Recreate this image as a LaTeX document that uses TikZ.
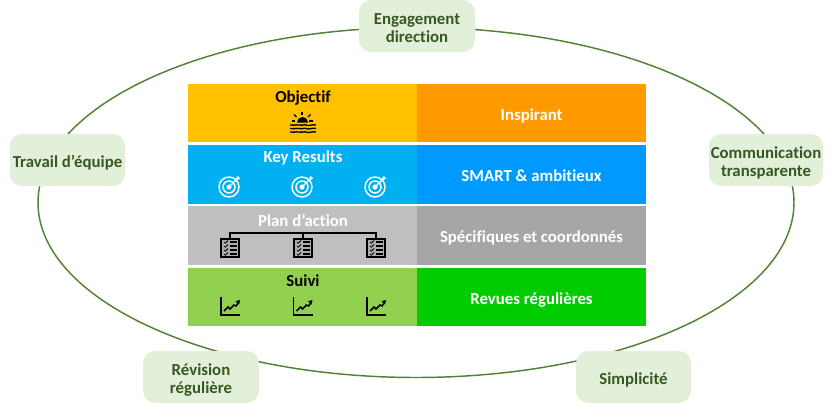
\documentclass[tikz,border=0pt]{standalone}
\usepackage{fontspec}
\usetikzlibrary{shapes.geometric}
\setmainfont[Ligatures=NoCommon]{Carlito}
\definecolor{ringg}{HTML}{548235}
\definecolor{pill}{HTML}{E2F0D9}
\definecolor{pilltext}{HTML}{385723}
\definecolor{c1l}{RGB}{255,192,0}
\definecolor{c1r}{RGB}{255,153,0}
\definecolor{c2l}{RGB}{0,176,240}
\definecolor{c2r}{RGB}{0,153,255}
\definecolor{c3l}{RGB}{191,191,191}
\definecolor{c3r}{RGB}{166,166,166}
\definecolor{c4l}{RGB}{146,208,80}
\definecolor{c4r}{RGB}{0,204,0}
\newcommand{\lowtxt}[1]{\raisebox{-5.6pt}[0pt][0pt]{\begin{tabular}{@{}c@{}}#1\end{tabular}}}
\tikzset{
 x=0.75pt,y=-0.75pt,
 pillbox/.style={draw=none,fill=pill,rounded corners=9pt,text=pilltext,font=\bfseries\fontsize{12.6}{13.5}\selectfont,inner sep=0pt,minimum height=39pt},
 band/.style={draw=none,inner sep=0pt,minimum width=171.75pt,font=\bfseries\fontsize{12.6}{13.5}\selectfont},
 lab/.style={inner sep=0pt,font=\bfseries\fontsize{12.6}{13.5}\selectfont},
 pics/target/.style={code={
  \draw[white,line width=1.1pt] (0,0) circle (10);
  \draw[white,line width=1.1pt] (0,0) circle (6);
  \fill[white] (0,0) circle (2.6);
  \draw[white,line width=0.9pt] (0,0) -- (9,-9);
  \fill[white] (6.5,-8) -- (9,-11.5) -- (9.7,-9.7) -- (11.5,-9) -- (8,-6.5) -- cycle;
 }},
 pics/chk/.style={code={
  \draw[black,line width=1.1pt,fill=black!10!c3l] (-9,-9) rectangle (9,9);
  \foreach \r in {-6,-2,2,6}{
   \draw[black,line width=0.6pt] (-6,\r) -- (-4.6,{\r+1.2}) -- (-2,{\r-1.5});
   \draw[black,line width=0.8pt] (0,\r) -- (6.5,\r);
  }
 }},
 pics/trend/.style={code={
  \draw[black,line width=0.9pt] (0,0) -- (0,18) -- (19,18);
  \draw[black,line width=1.1pt] (3,14) -- (7,10) -- (9,12) -- (13,8) -- (15,9) -- (18,5);
  \fill[black] (19,3) -- (14.5,4.2) -- (18,7.5) -- cycle;
 }},
}
\begin{document}
\begin{tikzpicture}
\useasboundingbox (0,0) rectangle (836,407);
\node[draw=ringg,line width=1.1pt,shape=ellipse,minimum width=567pt,minimum height=262.5pt,inner sep=0pt] (ring) at (416,202.5) {};
% bands
\node[band,fill=c1l,minimum height=43.5pt] (r1l) at (302.5,113) {};
\node[band,fill=c1r,text=white,minimum height=43.5pt] (r1r) at (531.5,113) {\lowtxt{Inspirant}};
\node[band,fill=c2l,minimum height=44.25pt] (r2l) at (302.5,174.5) {};
\node[band,fill=c2r,text=white,minimum height=44.25pt] (r2r) at (531.5,174.5) {\lowtxt{SMART \& ambitieux}};
\node[band,fill=c3l,minimum height=44.25pt] (r3l) at (302.5,235.5) {};
\node[band,fill=c3r,text=white,minimum height=44.25pt] (r3r) at (531.5,235.5) {\lowtxt{Spécifiques et coordonnés}};
\node[band,fill=c4l,minimum height=43.5pt] (r4l) at (302.5,297) {};
\node[band,fill=c4r,text=white,minimum height=43.5pt] (r4r) at (531.5,297) {\lowtxt{Revues régulières}};
% labels
\node[lab,text=black] (t1) at (303,98) {Objectif};
\node[lab,text=white] (t2) at (303,158) {Key Results};
\node[lab,text=white] (t3) at (303,220) {Plan d’action};
\node[lab,text=black] (t4) at (303,281) {Suivi};
% sun icon
\fill[black] (297,122.5) arc (180:360:5.5 and 5.5) -- cycle;
\draw[black,line width=0.9pt] (302,111.5) -- (302,115);
\draw[black,line width=0.9pt] (294,114.5) -- (296.5,117);
\draw[black,line width=0.9pt] (310.5,114.5) -- (308,117);
\draw[black,line width=0.9pt] (292,121) -- (295,121);
\draw[black,line width=0.9pt] (309,121) -- (313,121);
\foreach \yy in {125,128.5,132}{
 \draw[black,line width=1pt] (290,\yy) .. controls (293,{\yy+1.5}) and (296,{\yy-1}) .. (298,\yy) .. controls (301,{\yy+1.5}) and (304,{\yy-1}) .. (306,\yy) .. controls (309,{\yy+1.5}) and (312,{\yy-1}) .. (316,\yy);
}
% targets
\pic at (229,187) {target};
\pic at (302,187) {target};
\pic at (375,187) {target};
% checklists with tree
\draw[black,line width=1.1pt] (230,239) -- (230,233) -- (376,233) -- (376,239);
\draw[black,line width=1.1pt] (303,233) -- (303,239);
\pic at (230,248) {chk};
\pic at (303,248) {chk};
\pic at (376,248) {chk};
% charts
\pic at (221,297) {trend};
\pic at (293.5,297) {trend};
\pic at (367,297) {trend};
% pills
\node[pillbox,minimum width=87pt] (p1) at (417,26) {\lowtxt{Engagement\\direction}};
\node[pillbox,minimum width=86.25pt] (p2) at (67.5,160) {\lowtxt{Travail d’équipe}};
\node[pillbox,minimum width=85.5pt] (p3) at (766,160) {\lowtxt{Communication\\transparente}};
\node[pillbox,minimum width=87pt] (p4) at (201,377) {\lowtxt{Révision\\régulière}};
\node[pillbox,minimum width=86.25pt] (p5) at (633.5,377) {\lowtxt{Simplicité}};
\end{tikzpicture}
\end{document}
